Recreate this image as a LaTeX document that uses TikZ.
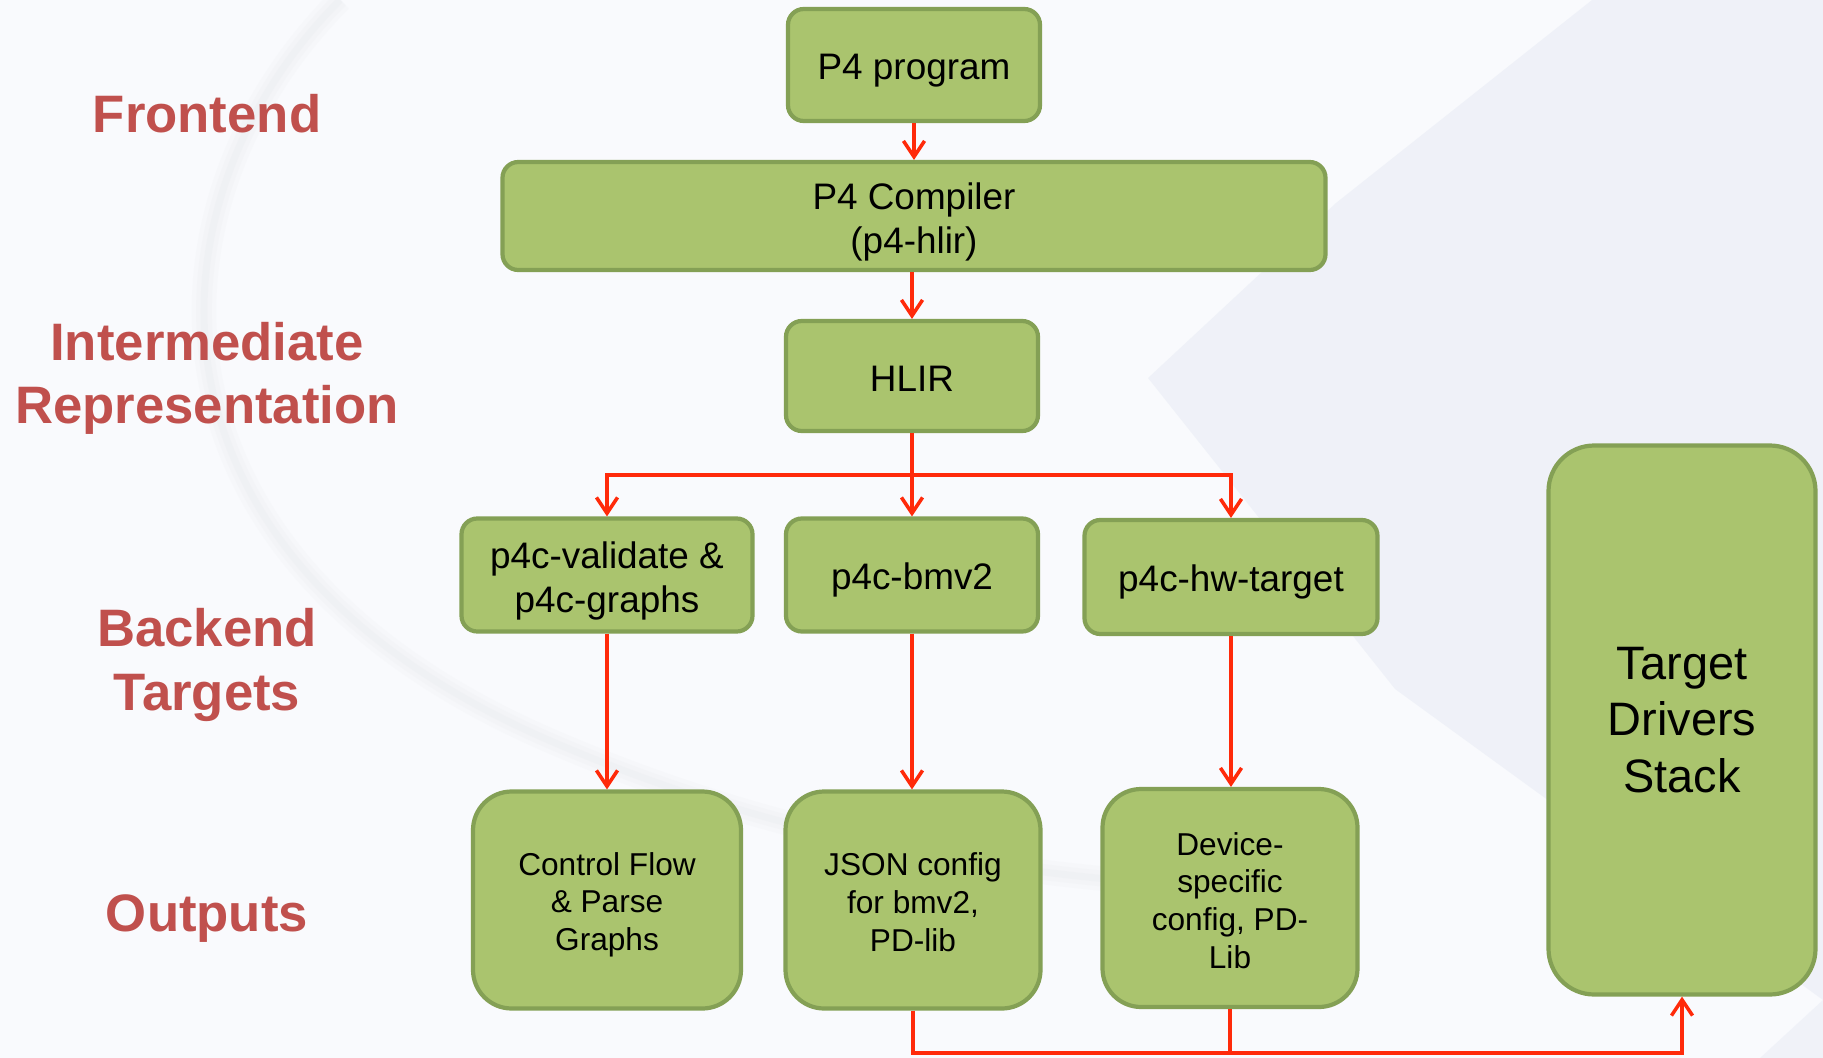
\documentclass[tikz,border=0pt]{standalone}
\usepackage{fontspec}
\setmainfont{Liberation Sans}
\usetikzlibrary{arrows.meta}
\definecolor{boxfill}{HTML}{AAC46E}
\definecolor{boxline}{HTML}{84A055}
\definecolor{flow}{HTML}{FF2A0A}
\definecolor{stage}{HTML}{C0504D}
\definecolor{paper}{HTML}{F9FAFD}
\definecolor{haze}{HTML}{E6EAF4}
\definecolor{shadow}{HTML}{E9EBEF}
% invisible rule that lowers the text block inside a box
\newcommand{\capstrut}[1][1em]{\rule{0pt}{#1}}
\tikzset{
  wd/.style={minimum width=#1*0.02cm},
  ht/.style={minimum height=#1*0.02cm},
  stagebox/.style={draw=boxline, fill=boxfill, line width=2.4pt, rounded corners=9pt,
    inner sep=0pt, align=center, font=\fontsize{21}{25}\selectfont},
  outbox/.style={stagebox, rounded corners=22pt, font=\fontsize{18}{21.5}\selectfont},
  stagelabel/.style={text=stage, align=center, font=\bfseries\fontsize{30}{36}\selectfont},
  flowline/.style={draw=flow, line width=2pt},
  flowarrow/.style={flowline, -{Straight Barb[length=9pt,width=12pt,line width=2pt]}}
}
\begin{document}
\begin{tikzpicture}[x=0.02cm, y=-0.02cm]
  % page and soft backdrop
  \fill[paper] (0,0) rectangle (1823,1058);
  \useasboundingbox (0,0) rectangle (1823,1058);
  \foreach \w/\o in {14pt/0.18, 9pt/0.22, 4pt/0.3}
    \draw[shadow, line width=\w, opacity=\o]
      (340,0) .. controls (140,200) and (120,560) .. (560,745)
      .. controls (760,830) and (960,870) .. (1180,885);
  \fill[haze, opacity=0.5] (1592,0) -- (1823,0) -- (1823,1000) -- (1395,689)
    -- (1148,378) -- (1336,203) -- cycle;
  \fill[haze, opacity=0.45] (1823,1000) -- (1823,1058) -- (1760,1058) -- cycle;

  % stage labels
  \node[stagelabel] (lfront) at (207,114) {Frontend};
  \node[stagelabel] (lir)    at (207,378) {Intermediate\\Representation};
  \node[stagelabel] (lback)  at (207,665) {Backend\\Targets};
  \node[stagelabel] (lout)   at (207,919) {Outputs};

  % frontend and IR
  \node[stagebox, wd=252, ht=112] (prog) at (914,65) {\capstrut P4 program};
  \node[stagebox, wd=823, ht=108] (comp) at (914,216) {\capstrut[1.05em]P4 Compiler\\(p4-hlir)};
  \node[stagebox, wd=252, ht=110] (hlir) at (912,376) {\capstrut[0.85em]HLIR};

  % backends
  \node[stagebox, wd=291, ht=113] (val) at (607,575) {\capstrut[1.05em]p4c-validate \&\\p4c-graphs};
  \node[stagebox, wd=252, ht=113] (bmv) at (912,575) {\capstrut p4c-bmv2};
  \node[stagebox, wd=293, ht=114] (hw)  at (1231,577) {\capstrut p4c-hw-target};

  % outputs
  \node[outbox, wd=268, ht=217] (cf)   at (607,900) {\capstrut[1.02em]Control Flow\\\& Parse\\Graphs};
  \node[outbox, wd=255, ht=217] (json) at (913,900) {\capstrut[0.88em]JSON config\\for bmv2,\\PD-lib};
  \node[outbox, wd=255, ht=218] (dev)  at (1230,898) {\capstrut[0.88em]Device-\\specific\\config, PD-\\Lib};

  % drivers
  \node[stagebox, rounded corners=26pt, wd=267, ht=549,
        font=\fontsize{26.7}{32}\selectfont] (tds) at (1682,720) {Target\\Drivers\\Stack};

  % connectors
  \draw[flowarrow] (prog) -- (comp);
  \draw[flowarrow] (comp.south -| hlir) -- (hlir);
  \coordinate (split) at (912,475);
  \draw[flowline] (hlir) -- (split);
  \draw[flowarrow] (split) -| (val);
  \draw[flowarrow] (split) -- (bmv);
  \draw[flowarrow] (split) -| (hw);
  \draw[flowarrow] (val) -- (cf);
  \draw[flowarrow] (bmv) -- (bmv |- json.north);
  \draw[flowarrow] (hw) -- (hw |- dev.north);
  \coordinate (bus) at (1682,1053);
  \draw[flowarrow] (json) |- (bus) -- (tds);
  \draw[flowline] (dev) -- (dev |- bus);
\end{tikzpicture}
\end{document}
